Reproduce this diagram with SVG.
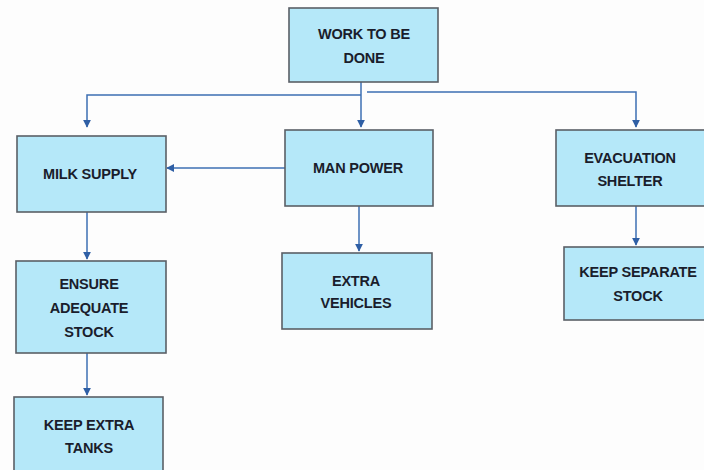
<svg xmlns="http://www.w3.org/2000/svg" width="704" height="470" viewBox="0 0 704 470">
<style>
.box{fill:#b5e8f9;stroke:#5a5f66;stroke-width:1.6}
.t{font-family:"Liberation Sans",Arial,sans-serif;font-weight:bold;font-size:14.5px;fill:#1a1d2c;text-anchor:middle;letter-spacing:-0.2px}
.c{fill:none;stroke:#3d6fb3;stroke-width:1.5}
</style>
<defs>
<marker id="ah" viewBox="0 0 10 10" refX="9" refY="5" markerWidth="8" markerHeight="8" markerUnits="userSpaceOnUse" orient="auto">
<path d="M0,0 L10,5 L0,10 z" fill="#2f5fa5"/>
</marker>
</defs>
<rect width="704" height="470" fill="#fdfdfd"/>
<g id="connectors">
<path class="c" d="M361,82 V127" marker-end="url(#ah)"/>
<path class="c" d="M361,95 H87 V127" marker-end="url(#ah)"/>
<path class="c" d="M367,92 H636 V127" marker-end="url(#ah)"/>
<path class="c" d="M285,168 H167" marker-end="url(#ah)"/>
<path class="c" d="M87,212 V259" marker-end="url(#ah)"/>
<path class="c" d="M87,353 V395" marker-end="url(#ah)"/>
<path class="c" d="M359,206 V251" marker-end="url(#ah)"/>
<path class="c" d="M636,206 V245" marker-end="url(#ah)"/>
</g>
<g id="work">
<rect class="box" x="289" y="8" width="149" height="74"/>
<text class="t" x="364" y="39">WORK TO BE</text>
<text class="t" x="364" y="63">DONE</text>
</g>
<g id="milk">
<rect class="box" x="17" y="136" width="149" height="76"/>
<text class="t" x="90" y="179">MILK SUPPLY</text>
</g>
<g id="manpower">
<rect class="box" x="285" y="130" width="148" height="76"/>
<text class="t" x="358" y="173">MAN POWER</text>
</g>
<g id="evac">
<rect class="box" x="556" y="130" width="150" height="76"/>
<text class="t" x="630" y="163">EVACUATION</text>
<text class="t" x="630" y="186">SHELTER</text>
</g>
<g id="ensure">
<rect class="box" x="16" y="261" width="150" height="92"/>
<text class="t" x="89" y="289">ENSURE</text>
<text class="t" x="89" y="313">ADEQUATE</text>
<text class="t" x="89" y="337">STOCK</text>
</g>
<g id="vehicles">
<rect class="box" x="282" y="253" width="150" height="76"/>
<text class="t" x="356" y="286">EXTRA</text>
<text class="t" x="356" y="308">VEHICLES</text>
</g>
<g id="separate">
<rect class="box" x="564" y="247" width="142" height="73"/>
<text class="t" x="638" y="277">KEEP SEPARATE</text>
<text class="t" x="638" y="301">STOCK</text>
</g>
<g id="tanks">
<rect class="box" x="14" y="397" width="149" height="80"/>
<text class="t" x="89" y="430">KEEP EXTRA</text>
<text class="t" x="89" y="453">TANKS</text>
</g>
</svg>
